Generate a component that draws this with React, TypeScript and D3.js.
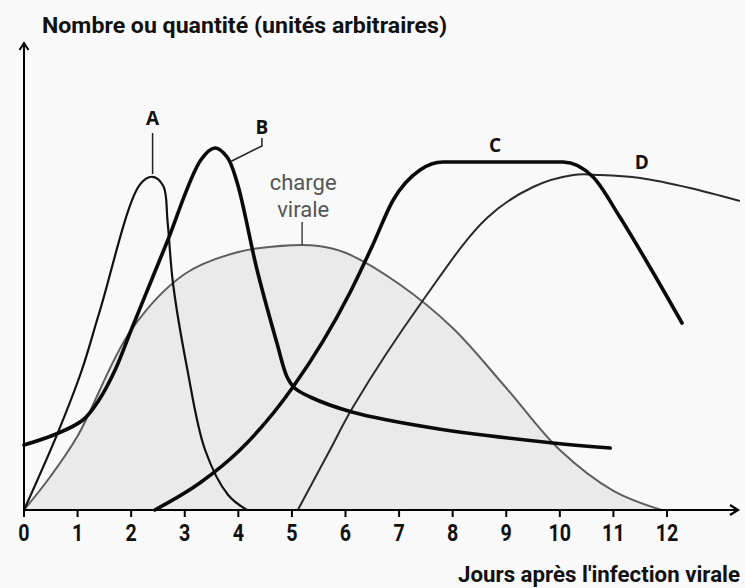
import React from 'react';
import * as d3 from 'd3';

// days on the x axis and their labels
const days = d3.range(0, 13);
const tickLabels = days.map(d => String(d));

// [day, value], value in arbitrary units (0-100)
const chargeVirale: [number, number][] = [
  [0, 0], [0.5, 8.5], [1, 18.5], [2, 45], [3, 59], [4, 64.5], [5, 66.2], [5.5, 66],
  [6, 64.3], [7, 56.5], [8, 45.5], [9, 30.5], [10, 15], [11, 4.8], [11.9, 0],
];
const seriesA: [number, number][] = [
  [0, 0], [0.63, 19.3], [1.08, 35], [1.42, 50], [2.16, 81.3], [2.4, 83.3], [2.6, 81],
  [2.68, 72], [2.78, 56.75], [3.04, 35.75], [3.38, 15], [3.81, 3.75], [4.16, 0],
];
const seriesB: [number, number][] = [
  [0, 16.25], [0.6, 19], [1.1, 22.5], [1.4, 27.5], [1.7, 35], [2, 45], [2.35, 56.5],
  [2.67, 67], [3.3, 87.5], [3.56, 90.5], [3.79, 88.25], [3.98, 81.75], [4.35, 60],
  [4.72, 41.75], [4.91, 33.25], [5.05, 30.5], [5.34, 28.25], [6.12, 24.5], [7.63, 20.5],
  [9.87, 16.75], [10.94, 15.5],
];
const seriesC: [number, number][] = [
  [2.44, 0], [3.28, 6.75], [4.03, 15], [5.02, 30.75], [6.08, 54.25], [6.5, 66],
  [6.89, 77.5], [7.39, 85], [7.82, 87], [10.06, 87], [10.62, 83.25],
  [11.12, 73.25], [11.68, 60.75], [12.28, 46.75],
];
const seriesD: [number, number][] = [
  [5.11, 0], [5.71, 15], [6.14, 25.75], [7.45, 52.5], [8.64, 73], [9.5, 80.75],
  [10.25, 83.75], [10.75, 83.75], [11.5, 83], [12.43, 80.5], [13.36, 77.25],
];

// curve labels, [day, value] of the text centre
const curveLabels: { text: string; at: [number, number] }[] = [
  { text: 'A', at: [2.4, 98] },
  { text: 'B', at: [4.44, 95.75] },
  { text: 'C', at: [8.79, 91.25] },
  { text: 'D', at: [11.53, 87] },
];
const leaderA: [number, number][] = [[2.4, 94.25], [2.4, 84]];
const leaderB: [number, number][] = [[4.44, 93], [4.44, 91], [3.84, 87]];
const leaderCharge: [number, number][] = [[5.19, 72], [5.19, 66.2]];
const chargeLabel = ['charge', 'virale'];
const chargeLabelAt: [number, number] = [5.21, 78.5];

const W = 745;
const H = 588;
const narrow = "'Liberation Sans Narrow', Roboto, sans-serif";

const App = () => {
  const x = d3.scaleLinear().domain([0, 12]).range([24, 667]);
  const y = d3.scaleLinear().domain([0, 100]).range([510, 110]);

  const curve = d3.curveCatmullRom.alpha(0.5);
  const line = d3.line<[number, number]>()
    .x(d => x(d[0]))
    .y(d => y(d[1]))
    .curve(curve);
  // C has a flat plateau, monotone keeps it flat
  const lineFlat = d3.line<[number, number]>()
    .x(d => x(d[0]))
    .y(d => y(d[1]))
    .curve(d3.curveMonotoneX);
  const area = d3.area<[number, number]>()
    .x(d => x(d[0]))
    .y0(y(0))
    .y1(d => y(d[1]))
    .curve(curve);
  const straight = d3.line<[number, number]>().x(d => x(d[0])).y(d => y(d[1]));

  const x0 = x(0);
  const y0 = y(0);

  return (
    <svg width={W} height={H} style={{ position: 'absolute', left: 0, top: 0, display: 'block' }}>
      <rect width={W} height={H} fill="#f9f9f9" />

      {/* charge virale */}
      <path d={area(chargeVirale) || ''} fill="#eaeaea" />
      <path d={line(chargeVirale) || ''} fill="none" stroke="#5e5e5e" strokeWidth={2} />

      {/* curves */}
      <path d={line(seriesD) || ''} fill="none" stroke="#2a2a2a" strokeWidth={2} />
      <path d={line(seriesA) || ''} fill="none" stroke="#111" strokeWidth={2.2} />
      <path d={lineFlat(seriesC) || ''} fill="none" stroke="#0a0a0a" strokeWidth={3.6} strokeLinecap="round" />
      <path d={line(seriesB) || ''} fill="none" stroke="#0a0a0a" strokeWidth={3.6} strokeLinecap="round" />

      {/* leaders */}
      <path d={straight(leaderA) || ''} fill="none" stroke="#222" strokeWidth={1.5} />
      <path d={straight(leaderB) || ''} fill="none" stroke="#222" strokeWidth={1.5} />
      <path d={straight(leaderCharge) || ''} fill="none" stroke="#444" strokeWidth={1.5} />

      {curveLabels.map(l => (
        <text key={l.text} x={x(l.at[0])} y={y(l.at[1])} dy="0.36em" textAnchor="middle"
          fontFamily="'Open Sans', sans-serif" fontWeight={700} fontSize={19} fill="#111">
          {l.text}
        </text>
      ))}
      {chargeLabel.map((t, i) => (
        <text key={t} x={x(chargeLabelAt[0])} y={y(chargeLabelAt[1]) + (i - 0.5) * 27} dy="0.36em"
          textAnchor="middle" fontFamily={narrow} fontSize={22} fill="#555">
          {t}
        </text>
      ))}

      {/* axes */}
      <line x1={x0} x2={x0} y1={y0 + 1} y2={44} stroke="#000" strokeWidth={2} />
      <path d={`M${x0 - 4.5},${50} L${x0},${43} L${x0 + 4.5},${50}`} fill="none" stroke="#000" strokeWidth={2} />
      <line x1={x0 - 1} x2={737} y1={y0} y2={y0} stroke="#000" strokeWidth={2} />
      <path d={`M${730},${y0 - 5} L${738},${y0} L${730},${y0 + 5}`} fill="none" stroke="#000" strokeWidth={2.2} />
      {days.map((d, i) => (
        <g key={d}>
          <line x1={x(d)} x2={x(d)} y1={y0} y2={y0 + 7} stroke="#000" strokeWidth={2} />
          <text transform={`translate(${x(d)},${y0 + 31}) scale(0.82,1)`} textAnchor="middle"
            fontFamily={narrow} fontWeight={700} fontSize={24} fill="#111">
            {tickLabels[i]}
          </text>
        </g>
      ))}

      <text x={42} y={33} fontFamily={narrow} fontWeight={700} fontSize={22} fill="#111"
        textLength={405} lengthAdjust="spacingAndGlyphs">
        Nombre ou quantité (unités arbitraires)
      </text>
      <text x={740} y={582} textAnchor="end" fontFamily={narrow} fontWeight={700} fontSize={22}
        fill="#111" textLength={282} lengthAdjust="spacingAndGlyphs">
        Jours après l'infection virale
      </text>
    </svg>
  );
};

export default App;
